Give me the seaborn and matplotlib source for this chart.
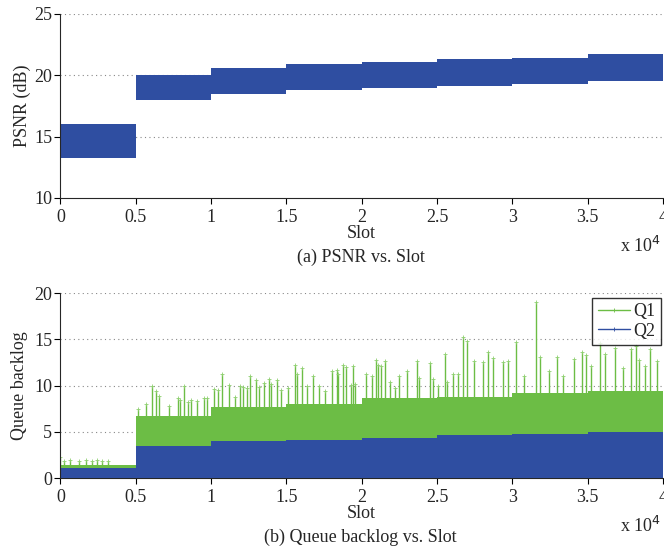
import numpy as np
import matplotlib
matplotlib.use("Agg")
import matplotlib.pyplot as plt
from matplotlib.lines import Line2D
import seaborn as sns

# segment boundaries (slots), one value per 5000-slot segment
seg_edges = [0, 5000, 10000, 15000, 20000, 25000, 30000, 35000, 40000]

# PSNR band (dB)
psnr_hi = [16.0, 20.05, 20.6, 20.9, 21.05, 21.3, 21.45, 21.7]
psnr_lo = [13.3, 18.0, 18.45, 18.8, 18.95, 19.15, 19.3, 19.5]

# queue backlog: top of the dense mass per segment
q1_top = [1.4, 6.7, 7.7, 8.0, 8.6, 8.8, 9.2, 9.4]
q2_top = [1.05, 3.45, 3.95, 4.1, 4.3, 4.6, 4.8, 5.0]

# Q1 peaks standing out of the mass (slot, backlog)
q1_spike_x = [0, 230, 630, 1230, 1690, 2070, 2440, 2730, 3170,
              5160, 5710, 6050, 6310, 6530, 7190, 7790, 7940, 8190, 8470,
              8690, 9030, 9510, 9740, 10200, 10490, 10710, 11170, 11590,
              11920, 12140, 12360, 12590, 12980, 13160, 13490, 13850, 14000,
              14360, 14660, 15130, 15550, 15720, 16010, 16360, 16790, 17180,
              17540, 18020, 18330, 18420, 18780, 18950, 19280, 19390, 19520,
              20300, 20700, 20960, 21100, 21300, 21530, 21890, 22240, 22440,
              23000, 23680, 23800, 24500, 24760, 25060, 25560, 25670, 26090,
              26420, 26710, 26970, 27420, 28080, 28390, 28700, 29360, 29690,
              30270, 30780, 31570, 31860, 32430, 32940, 33380, 34110, 34620,
              34900, 35200, 35790, 36140, 36830, 37350, 37870, 38200, 38390,
              38780, 39150, 39600]
q1_spike_y = [2.3, 1.8, 1.9, 1.8, 1.9, 1.8, 1.9, 1.8, 1.8,
              7.5, 8.0, 10.0, 9.4, 8.9, 7.8, 8.6, 8.4, 10.0, 8.2,
              8.4, 8.3, 8.6, 8.7, 9.6, 9.5, 11.2, 10.1, 8.8,
              10.0, 9.8, 9.7, 11.0, 10.6, 9.8, 10.3, 10.7, 10.2,
              10.6, 9.5, 9.7, 12.25, 11.2, 11.9, 10.0, 11.0, 10.0,
              9.4, 11.6, 11.7, 11.2, 12.2, 12.0, 10.1, 12.1, 10.2,
              11.2, 11.0, 12.8, 12.25, 12.1, 12.6, 10.4, 9.7, 11.0,
              11.6, 12.7, 10.8, 12.4, 10.7, 10.0, 13.4, 10.4, 11.2,
              11.2, 15.2, 14.8, 12.6, 12.5, 13.65, 13.0, 12.5, 12.6,
              14.7, 11.0, 19.0, 13.1, 11.6, 13.1, 11.0, 12.9, 13.6,
              13.25, 12.1, 14.6, 13.4, 14.1, 11.85, 13.9, 14.3, 12.8,
              12.1, 14.0, 12.7]

x_ticks = [0, 5000, 10000, 15000, 20000, 25000, 30000, 35000, 40000]

blue = "#2f4ea1"
green = "#6cbd45"
FS = 13

sns.set_style("ticks")
plt.rcParams["font.family"] = ["Liberation Serif", "DejaVu Serif"]
plt.rcParams["font.size"] = FS

fig = plt.figure(figsize=(6.64, 5.48), dpi=100)
ax1 = fig.add_axes([0.0911, 0.6387, 0.9074, 0.3358])
ax2 = fig.add_axes([0.0911, 0.1277, 0.9074, 0.3376])

edges = np.array(seg_edges)


def stepped(vals):
    return np.append(vals, vals[-1])


def style_axis(ax, ylim, yticks):
    ax.set_xlim(0, 40000)
    ax.set_ylim(*ylim)
    ax.set_xticks(x_ticks)
    ax.set_xticklabels(["%g" % (t / 1e4) for t in x_ticks])
    ax.set_yticks(yticks)
    for t in yticks[1:]:
        ax.axhline(t, color="#888888", lw=0.8, ls=(0, (1, 3)), zorder=0.5)
    sns.despine(ax=ax, top=True, right=True)
    ax.spines["left"].set_linewidth(0.8)
    ax.spines["bottom"].set_linewidth(0.8)
    ax.spines["left"].set_zorder(5)
    ax.tick_params(direction="out", length=4, width=0.8, labelsize=FS,
                   color="black")
    ax.tick_params(axis="x", pad=4)
    ax.tick_params(axis="y", pad=2)
    ax.set_xlabel("Slot", fontsize=FS, labelpad=-1)


# (a) PSNR
ax1.fill_between(edges, stepped(psnr_lo), stepped(psnr_hi), step="post",
                 color=blue, lw=0, zorder=2)
style_axis(ax1, (10, 25), [10, 15, 20, 25])
ax1.set_ylabel("PSNR (dB)", fontsize=FS, labelpad=2)

# (b) Queue backlog
ax2.fill_between(edges, 0, stepped(q1_top), step="post", color=green, lw=0,
                 zorder=2)
base = np.array(q1_top)[np.clip(np.searchsorted(edges, q1_spike_x, side="right") - 1, 0, 7)]
ax2.vlines(q1_spike_x, base, q1_spike_y, color=green, lw=1.0, zorder=2)
ax2.plot(q1_spike_x, q1_spike_y, ls="none", marker="+", ms=3, mew=0.6,
         color="#8fd070", zorder=2)
ax2.fill_between(edges, 0, stepped(q2_top), step="post", color=blue, lw=0,
                 zorder=3)
style_axis(ax2, (0, 20), [0, 5, 10, 15, 20])
ax2.set_ylabel("Queue backlog", fontsize=FS, labelpad=4)

handles = [Line2D([], [], color=green, lw=1, marker="+", ms=3, mew=0.6),
           Line2D([], [], color=blue, lw=1, marker="+", ms=3, mew=0.6)]
leg = ax2.legend(handles, ["Q1", "Q2"], loc="upper right", fontsize=FS,
                 frameon=True, fancybox=False, handlelength=1.8,
                 handletextpad=0.2, borderpad=0.3, labelspacing=0.15,
                 borderaxespad=0.0, bbox_to_anchor=(0.997, 0.975))
leg.get_frame().set_edgecolor("black")
leg.get_frame().set_linewidth(1.0)
leg.set_zorder(10)

fig.text(0.995, 1 - 246 / 548, r"x 10$^4$", ha="right", va="center",
         fontsize=FS)
fig.text(0.995, 1 - 526 / 548, r"x 10$^4$", ha="right", va="center",
         fontsize=FS)
fig.text(0.543, 1 - 257 / 548, "(a) PSNR vs. Slot", ha="center",
         va="center", fontsize=FS)
fig.text(0.543, 1 - 537 / 548, "(b) Queue backlog vs. Slot", ha="center",
         va="center", fontsize=FS)

fig.savefig("out.png", dpi=100)
